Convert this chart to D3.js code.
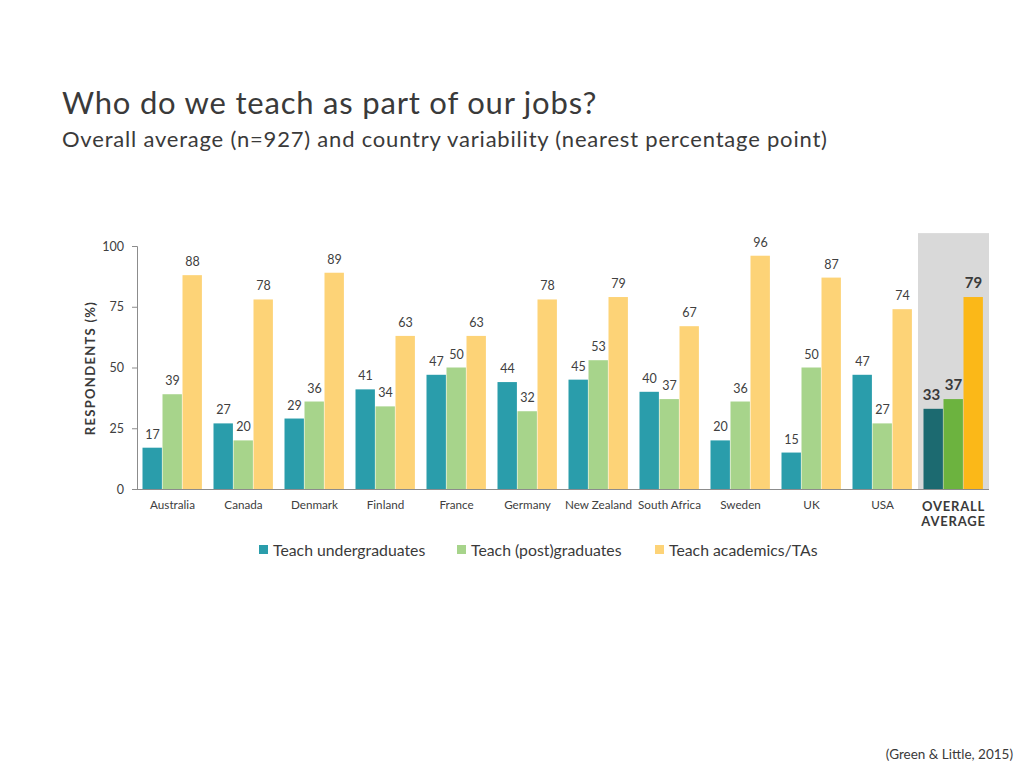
<!DOCTYPE html>
<html><head><meta charset="utf-8">
<script src="https://cdn.jsdelivr.net/npm/d3@7/dist/d3.min.js"></script>
<style>
html,body{margin:0;padding:0;background:#fff;}
svg{display:block;font-family:"Lato","Open Sans",sans-serif;}
</style></head>
<body>
<svg id="c" width="1024" height="768"></svg>
<script>
const categories = ["Australia","Canada","Denmark","Finland","France","Germany","New Zealand","South Africa","Sweden","UK","USA","OVERALL AVERAGE"];
const seriesNames = ["Teach undergraduates","Teach (post)graduates","Teach academics/TAs"];
const undergrad = [17,27,29,41,47,44,45,40,20,15,47,33];
const postgrad  = [39,20,36,34,50,32,53,37,36,50,27,37];
const academics = [88,78,89,63,63,78,79,67,96,87,74,79];
const yTicks = [0,25,50,75,100];
const colors = ["#2a9dab","#a7d48b","#fdd377"];
const avgColors = ["#1c6a70","#6cb33f","#fbb818"];

(function(){
const svg = d3.select("#c");
const textCol = "#404040";

svg.append("text").attr("x",62).attr("y",114).attr("font-size",31).attr("letter-spacing",0.8).attr("fill","#3a3a3a")
  .text("Who do we teach as part of our jobs?");
svg.append("text").attr("x",62).attr("y",147).attr("font-size",22).attr("letter-spacing",0.8).attr("fill","#3a3a3a")
  .text("Overall average (n=927) and country variability (nearest percentage point)");

const pL = 137, pR = 989, pT = 246, pB = 489;
const y = d3.scaleLinear().domain([0,100]).range([pB, pT]);
const x0 = d3.scaleBand().domain(categories).range([pL, pR]).padding(0);
const x1 = d3.scaleBand().domain([0,1,2]).range([5.5, x0.bandwidth()-5.5]).padding(0);

const series = [undergrad, postgrad, academics];
const nAvg = categories.length - 1;

svg.append("rect")
  .attr("x", x0(categories[nAvg])).attr("y", y(105.3))
  .attr("width", x0.bandwidth()).attr("height", y(0)-y(105.3))
  .attr("fill","#d9d9d9");

const yAxis = d3.axisLeft(y).tickValues(yTicks).tickSize(5).tickPadding(8);
const gy = svg.append("g").attr("transform",`translate(${pL},0)`).call(yAxis);
gy.select(".domain").attr("stroke","#8c8c8c");
gy.selectAll(".tick line").attr("stroke","#8c8c8c");
gy.selectAll(".tick text").attr("font-size",12.5).attr("fill",textCol).attr("font-family","Lato, sans-serif");

categories.forEach((c,i)=>{
  const isAvg = i === nAvg;
  series.forEach((s,k)=>{
    const v = s[i];
    svg.append("rect")
      .attr("x", x0(c)+x1(k)).attr("y", y(v))
      .attr("width", x1.bandwidth()-0.6).attr("height", y(0)-y(v))
      .attr("fill", isAvg ? avgColors[k] : colors[k]);
    svg.append("text")
      .attr("x", x0(c)+x1(k)+x1.bandwidth()/2 + (isAvg && k===0 ? -2 : 0))
      .attr("y", y(v) - 9)
      .attr("text-anchor","middle")
      .attr("font-size", isAvg ? 15 : 12.5)
      .attr("font-weight", isAvg ? "bold" : "normal")
      .attr("fill", isAvg ? "#3a3a3a" : textCol)
      .text(v);
  });
});

svg.append("line").attr("x1",pL).attr("x2",pR).attr("y1",pB+0.5).attr("y2",pB+0.5)
  .attr("stroke","#8c8c8c");

categories.forEach((c,i)=>{
  const cx = x0(c)+x0.bandwidth()/2;
  if (i === nAvg) {
    const t = svg.append("text").attr("x",cx).attr("text-anchor","middle")
      .attr("font-size",13).attr("font-weight","bold").attr("fill","#3a3a3a").attr("letter-spacing",0.8);
    t.append("tspan").attr("x",cx).attr("y",511).text("OVERALL");
    t.append("tspan").attr("x",cx).attr("y",526).text("AVERAGE");
  } else {
    svg.append("text").attr("x",cx).attr("y",509).attr("text-anchor","middle")
      .attr("font-size",11.7).attr("fill",textCol).text(c);
  }
});

svg.append("text").attr("transform","translate(95,368) rotate(-90)")
  .attr("text-anchor","middle").attr("font-size",13).attr("font-weight","bold")
  .attr("letter-spacing",1.3).attr("fill","#3a3a3a").text("RESPONDENTS (%)");

const legX = [259,457,655];
seriesNames.forEach((n,k)=>{
  svg.append("rect").attr("x",legX[k]).attr("y",545).attr("width",9).attr("height",9).attr("fill",colors[k]);
  svg.append("text").attr("x",legX[k]+14).attr("y",555.5).attr("font-size",15.8).attr("fill","#3a3a3a").text(n);
});

svg.append("text").attr("x",1013).attr("y",759).attr("text-anchor","end")
  .attr("font-size",13.5).attr("fill","#3a3a3a").text("(Green & Little, 2015)");
})();
</script>
</body></html>
